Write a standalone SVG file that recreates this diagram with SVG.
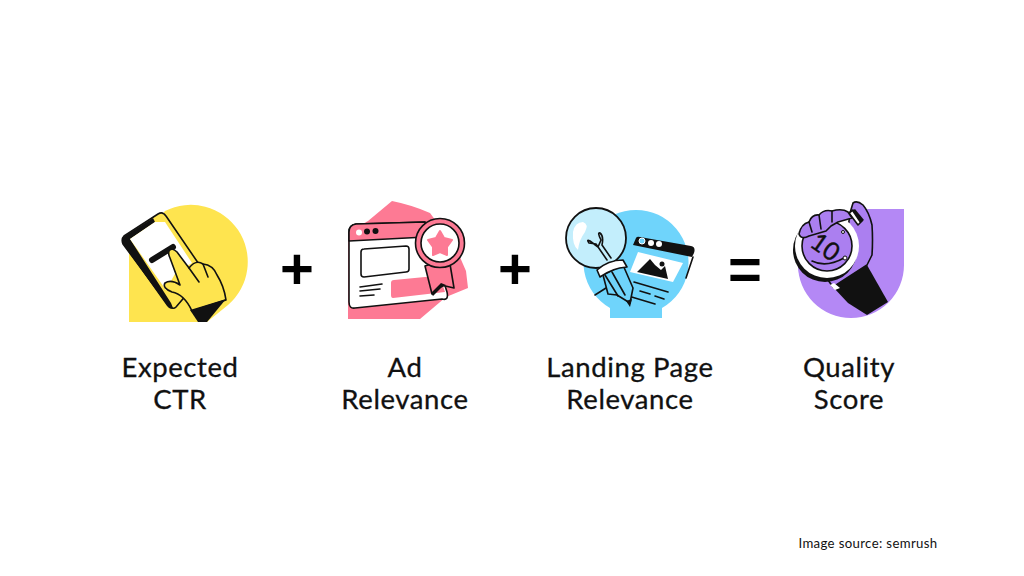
<svg xmlns="http://www.w3.org/2000/svg" width="1024" height="576" viewBox="0 0 1024 576">
<style>
.l{font-family:"Lato","Liberation Sans",sans-serif;font-size:27.500px;fill:#111;stroke:#111;stroke-width:.3px;text-anchor:middle;letter-spacing:.6px}
.op{font-family:"Liberation Sans",sans-serif;font-weight:700;font-size:58px;fill:#000;text-anchor:middle}
.k{stroke:#111;stroke-width:1.6;stroke-linejoin:round;stroke-linecap:round}
.n{fill:none}
.w{fill:#fff}
.b{fill:#111}
</style>
<rect width="1024" height="576" fill="#fff"/>
<g id="node-ctr">
<path d="M129 322V250L165 211A57 57 0 0 1 228 305L207 322Z" fill="#fee44f"/>
<path class="k" fill="#fee44f" d="M124 236L158 214Q163 211 166 216L205 273L176 307Q173 310 169 306L123 244Q121 239 124 236Z"/>
<path d="M123 237L134 230L153 218L155 222L130 239L171 303L173 308Q170 310 167 306L123 244Q121 240 123 237Z" fill="#111"/>
<path d="M130 239L155 222H165L192 263L176 272L166 290Z" fill="#fff"/>
<path d="M152 260L173 247" stroke="#111" stroke-width="6" stroke-linecap="round"/>
<path class="k" fill="#fee44f" d="M169 251Q172 247 177 252L189 268Q196 259 203 264Q213 265 217 275Q224 286 226 300L192 311Q184 294 172 292Q162 288 165 283Q171 279 180 285L170 258Q168 254 169 251Z"/>
<path class="k n" d="M189 268L199 282M203 264L208 277"/>
<path d="M190 310L226 299L207 322H198Z" fill="#111"/>
</g>
<g id="node-ad">
<path d="M392 201Q412 205 430 213L456 248L466 271L468 288L446 297L420 319H348V300V232L368 221Z" fill="#fd7a94"/>
<path class="k w" d="M349 232Q349 225 356 224L425 222L447 292Q449 301 442 299L355 308Q349 309 349 302Z"/>
<path class="k" fill="#fd7a94" d="M349 232Q349 225 356 224L425 222L426 237L349 241Z"/>
<circle cx="359" cy="232.500" r="3" fill="#fff"/>
<circle cx="367" cy="231.500" r="3" fill="#111"/>
<circle cx="375.500" cy="231" r="3" fill="#111"/>
<path class="k w" d="M361 252Q361 249 364 249L406 246Q409 246 409 249V269Q409 272 406 272L364 277Q361 277 361 274Z"/>
<path class="k n" d="M360 287L382 284M360 291L380 289M360 296L374 295"/>
<path d="M394 280L425 277H440L445 292L393 298Q391 298 391 295V283Q391 280 394 280Z" fill="#fd7a94"/>
<path class="k" fill="#fd7a94" d="M425 266L432 294L441 285L454 288L449 258Z"/>
<path d="M431 293L441 283L446 285L441 288L433 296Z" fill="#111"/>
<circle class="k" cx="440" cy="243" r="24.500" fill="#fd7a94"/>
<circle class="k w" cx="440" cy="243" r="19"/>
<path d="M440 231L444 238L452 240L447 247L447 255L440 252L433 255L433 247L428 240L436 238Z" fill="#fd7a94" stroke="#fd7a94" stroke-width="2" stroke-linejoin="round"/>
</g>
<g id="node-landing">
<path d="M610 308A52.500 52.500 0 1 1 662 308V318H610Z" fill="#6fd4fb"/>
<path d="M636 238Q637 236 640 237L691 246Q696 247 694 253L692 257L633 245Z" fill="#111"/>
<path class="k n" d="M693 257L686 278"/>
<circle cx="642" cy="241" r="3" fill="#6fd4fb" stroke="#fff"/>
<circle cx="651" cy="243" r="3" fill="#fff"/>
<circle cx="659" cy="244" r="3" fill="#fff"/>
<path d="M638 252L683 263L673 282L630 272Z" fill="#fff"/>
<path d="M637 272L650 259L655 265L661 270L665 266L668 279Z" fill="#111"/>
<circle cx="662" cy="264" r="2.500" fill="#111"/>
<path class="k n" d="M634 282L668 292M640 291L650 294M655 296L664 299M625 295L655 304M595 295L606 288"/>
<circle cx="596" cy="238" r="30" fill="#c3eefc" stroke="#111" stroke-width="1.800"/>
<path d="M573 232Q575 222 583 222Q589 224 585 232Q579 240 578 250Q572 245 573 232Z" fill="#fff"/>
<path class="k n" d="M607 260L596 244L589 243Q586 239 590 241L598 247L601 240Q597 232 600 233Q604 236 602 245L611 258"/>
<path class="k" fill="#6fd4fb" d="M603 275L623 265L633 288L630 303L617 295L608 294Z"/>
<path class="k n" d="M605 275L618 296M612 272L625 295"/>
<path class="k w" d="M597 270Q608 260 623 260L627 267Q612 268 600 277Z"/>
<path d="M626 301L632 299L630 307Z" fill="#111"/>
</g>
<g id="node-quality">
<path d="M866 209H904V265A53 53 0 0 1 798 265V258L830 280L866 260Z" fill="#b488f5"/>
<path d="M798 258L836 284L862 279L887 301A53 53 0 0 1 798 265Z" fill="#b488f5"/>
<path class="k" fill="#ab7ff0" d="M850 213L853 203Q857 200 863 205Q869 212 872 225Q873 240 872 255L867 265L833 287L815 262L846 245Z"/>
<path d="M833 287L867 265L888 302L867 315L848 303Z" fill="#111"/>
<path d="M830 285L834 283L840 288L835 290Z" fill="#fff"/>
<path class="k w" d="M849 213L853 210L862 221L858 225Z"/>
<path d="M852 211L855 209L864 220L860 223Z" fill="#111"/>
<circle cx="825" cy="250" r="32" fill="#111"/>
<circle cx="827" cy="246" r="32" fill="#fff"/>
<circle class="k" cx="827" cy="246" r="25" fill="#ab7ff0"/>
<path class="k n" d="M812 261Q826 268 844 258"/>
<circle cx="845" cy="258" r="2" fill="#fff" stroke="#111"/>
<circle cx="843" cy="232" r="1.500" fill="#fff" stroke="#111"/>
<text transform="translate(826 246) rotate(35)" font-family="Lato,'Liberation Sans',sans-serif" font-size="25" fill="#111" stroke="#111" stroke-width=".4" text-anchor="middle" dominant-baseline="central">10</text>
<path class="k" fill="#ab7ff0" d="M799 234Q801 224 809 222Q812 214 819 215Q824 209 832 211Q842 208 848 212L852 218L838 222L831 226L826 231L809 236Q801 240 799 234Z"/>
<path class="k n" d="M809 222L812 232M819 215L821 229M832 211L832 222"/>
</g>
<g id="operators">
<text class="op" x="297" y="289">+</text>
<text class="op" x="515" y="289">+</text>
<text class="op" x="745" y="289">=</text>
</g>
<g id="labels">
<text class="l" x="180" y="377">Expected</text>
<text class="l" x="180" y="409">CTR</text>
<text class="l" x="405" y="377">Ad</text>
<text class="l" x="405" y="409">Relevance</text>
<text class="l" x="630" y="377">Landing Page</text>
<text class="l" x="630" y="409">Relevance</text>
<text class="l" x="849" y="377">Quality</text>
<text class="l" x="849" y="409">Score</text>
<text x="868" y="548" font-family="Lato,'Liberation Sans',sans-serif" font-size="13.200" fill="#111" text-anchor="middle" letter-spacing=".35">Image source: semrush</text>
</g>
</svg>
